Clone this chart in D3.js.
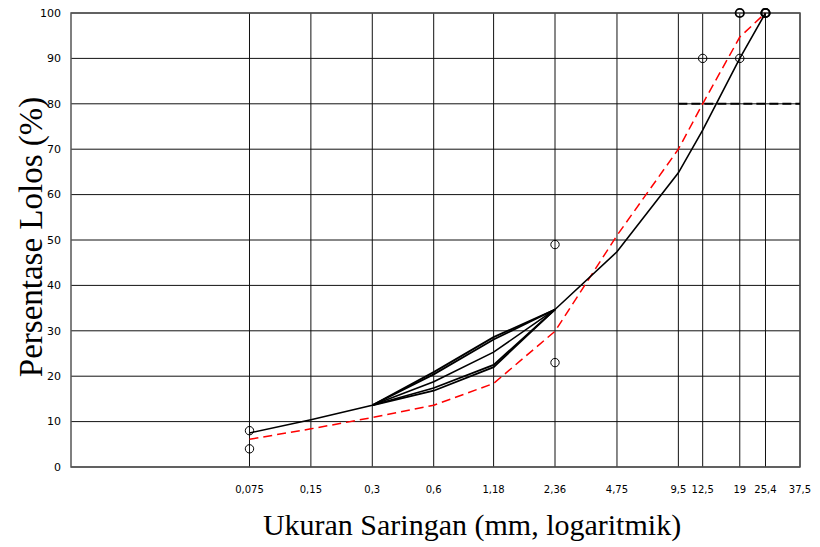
<!DOCTYPE html>
<html>
<head>
<meta charset="utf-8">
<script src="https://cdn.jsdelivr.net/npm/d3@7"></script>
<style>
  html, body { margin: 0; padding: 0; background: #fff; }
  #chart { width: 820px; height: 547px; }
</style>
</head>
<body>
<div id="chart"></div>
<script>
// sieve sizes (mm) and their labels on the x axis
const sieveSizes = [0.075, 0.15, 0.3, 0.6, 1.18, 2.36, 4.75, 9.5, 12.5, 19, 25.4, 37.5];
const sieveLabels = ["0,075", "0,15", "0,3", "0,6", "1,18", "2,36", "4,75", "9,5", "12,5", "19", "25,4", "37,5"];
const yTicks = [0, 10, 20, 30, 40, 50, 60, 70, 80, 90, 100];

// gradation curve (black, solid)
const mainSizes = [0.075, 0.15, 0.3, 0.6, 1.18, 2.36, 4.75, 9.5, 12.5, 19, 25.4];
const mainValues = [7.5, 10.4, 13.6, 18.8, 25.3, 34.7, 47.4, 64.8, 74.2, 90, 100];
// the bundle of trial curves between 0.3 and 2.36
const bundleSizes = [0.3, 0.6, 1.18, 2.36];
const bundleUpperA = [13.6, 20.9, 28.6, 34.7];
const bundleUpperB = [13.6, 20.4, 28.1, 34.7];
const bundleLowerA = [13.6, 17.4, 22.5, 34.7];
const bundleLowerB = [13.6, 16.8, 22.0, 34.7];

// red dashed curve
const redValues = [6.1, 8.4, 10.9, 13.6, 18.4, 29.9, 51, 70, 80, 94.7, 100];

// limit points (open circles)
const upperLimitSizes = [0.075, 2.36, 12.5, 19, 25.4];
const upperLimitValues = [8, 49, 90, 100, 100];
const lowerLimitSizes = [0.075, 2.36, 19, 25.4];
const lowerLimitValues = [4, 23, 90, 100];

// dashed reference line at 80 %
const refSizes = [9.5, 37.5];
const refValues = [80, 80];

const width = 820, height = 547;
const margin = { top: 13, right: 20, bottom: 80, left: 71 };

const svg = d3.select('#chart').append('svg')
  .attr('width', width).attr('height', height);

const xScale = d3.scaleLog().domain([0.01, 37.5]).range([margin.left, width - margin.right]);
const yScale = d3.scaleLinear().domain([0, 100]).range([height - margin.bottom, margin.top]);

const plotLeft = margin.left, plotRight = width - margin.right;
const plotTop = margin.top, plotBottom = height - margin.bottom;

// grid - horizontal
svg.append('g').selectAll('line').data(yTicks).enter().append('line')
  .attr('x1', plotLeft).attr('x2', plotRight)
  .attr('y1', d => yScale(d)).attr('y2', d => yScale(d))
  .attr('stroke', '#111').attr('stroke-width', 1);

// grid - vertical
svg.append('g').selectAll('line').data(sieveSizes).enter().append('line')
  .attr('x1', d => xScale(d)).attr('x2', d => xScale(d))
  .attr('y1', plotTop).attr('y2', plotBottom)
  .attr('stroke', '#111').attr('stroke-width', 1);

// frame
svg.append('rect')
  .attr('x', plotLeft).attr('y', plotTop)
  .attr('width', plotRight - plotLeft).attr('height', plotBottom - plotTop)
  .attr('fill', 'none').attr('stroke', '#555').attr('stroke-width', 1.5);

// y labels
svg.append('g').selectAll('text').data(yTicks).enter().append('text')
  .attr('x', 61).attr('y', d => yScale(d)).attr('dy', '0.35em')
  .attr('text-anchor', 'end')
  .style('font', '11px "DejaVu Sans", sans-serif').style('fill', '#000')
  .text(d => d);

// x labels
svg.append('g').selectAll('text').data(sieveSizes).enter().append('text')
  .attr('x', (d, i) => xScale(d)).attr('y', 489).attr('dy', '0.35em')
  .attr('text-anchor', 'middle')
  .style('font', '10px "DejaVu Sans", sans-serif').style('fill', '#000')
  .text((d, i) => sieveLabels[i]);

// axis titles
svg.append('text')
  .attr('transform', 'translate(42, 237) rotate(-90)')
  .attr('text-anchor', 'middle')
  .style('font', '33px "Liberation Serif", serif').style('fill', '#000')
  .text('Persentase Lolos (%)');

svg.append('text')
  .attr('x', 472).attr('y', 535)
  .attr('text-anchor', 'middle')
  .style('font', '30px "Liberation Serif", serif').style('fill', '#000')
  .text('Ukuran Saringan (mm, logaritmik)');

const line = d3.line().x(d => xScale(d[0])).y(d => yScale(d[1]));
const pairs = (xs, ys) => xs.map((x, i) => [x, ys[i]]);

// 80 % reference dashes
svg.append('path')
  .attr('d', line(pairs(refSizes, refValues)))
  .attr('fill', 'none').attr('stroke', '#000').attr('stroke-width', 2)
  .attr('stroke-dasharray', '9,4');

// red dashed curve
svg.append('path')
  .attr('d', line(pairs(mainSizes, redValues)))
  .attr('fill', 'none').attr('stroke', '#f00').attr('stroke-width', 1.5)
  .attr('stroke-dasharray', '9,5');

// black curves
[bundleUpperA, bundleUpperB, bundleLowerA, bundleLowerB].forEach(vals => {
  svg.append('path')
    .attr('d', line(pairs(bundleSizes, vals)))
    .attr('fill', 'none').attr('stroke', '#000').attr('stroke-width', 1.8);
});
svg.append('path')
  .attr('d', line(pairs(mainSizes, mainValues)))
  .attr('fill', 'none').attr('stroke', '#000').attr('stroke-width', 1.6);

// limit points
const pts = pairs(upperLimitSizes, upperLimitValues).concat(pairs(lowerLimitSizes, lowerLimitValues));
svg.append('g').selectAll('circle').data(pts).enter().append('circle')
  .attr('cx', d => xScale(d[0])).attr('cy', d => yScale(d[1]))
  .attr('r', 4.2)
  .attr('fill', 'none').attr('stroke', '#000')
  .attr('stroke-width', d => d[1] === 100 ? 1.8 : 1);
</script>
</body>
</html>
